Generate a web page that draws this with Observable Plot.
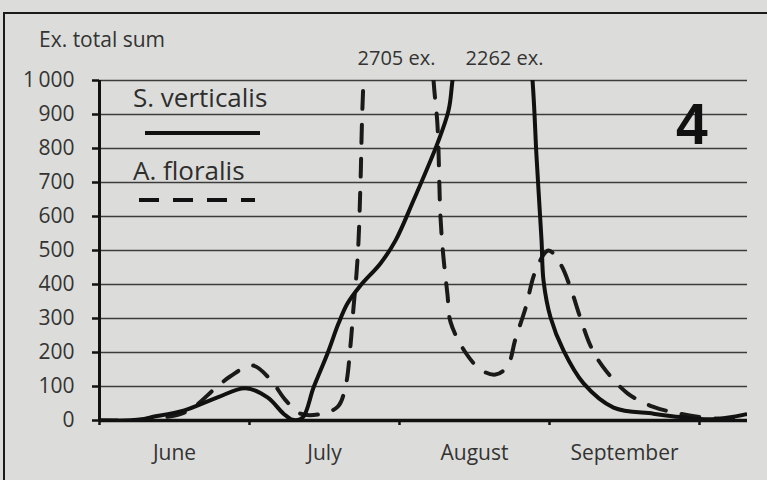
<!DOCTYPE html>
<html>
<head>
<meta charset="utf-8">
<script src="https://cdn.jsdelivr.net/npm/d3@7"></script>
<script src="https://cdn.jsdelivr.net/npm/@observablehq/plot@0.6"></script>
<style>
  html, body { margin: 0; padding: 0; }
  body { width: 767px; height: 480px; overflow: hidden; position: relative; background: #dcddda; font-family: "Open Sans", sans-serif; color: #333; }
  #chart { position: absolute; left: 0; top: 0; }
  .frame { position: absolute; left: 3px; top: 12px; width: 820px; height: 520px; border-left: 2px solid #1a1a1a; border-top: 2px solid #1a1a1a; pointer-events: none; }
  .lbl { position: absolute; white-space: nowrap; line-height: 1; }
  .legend-line { position: absolute; }
</style>
</head>
<body>
<div id="chart"></div>
<div class="frame"></div>
<div class="lbl" style="left:39px; top:29px; font-size:21px; color:#333;">Ex. total sum</div>
<div class="lbl" style="left:133px; top:84px; font-size:26px; color:#2e2e2e;">S. verticalis</div>
<svg class="legend-line" style="left:0; top:0;" width="300" height="220" id="legsvg"></svg>
<div class="lbl" style="left:133px; top:157px; font-size:26px; color:#2e2e2e;">A. floralis</div>
<div class="lbl" style="left:676px; top:96px; font-size:57px; font-weight:bold; font-family:'Liberation Sans', Arial, sans-serif; color:#111;">4</div>
<script>
// ---- Data (x = position in months, 0 = start of June) ----
const months = ["June", "July", "August", "September"];
const monthCenters = [0.5, 1.5, 2.5, 3.5];
const monthBounds = [0, 1, 2, 3, 4];
const yTicks = [0, 100, 200, 300, 400, 500, 600, 700, 800, 900, 1000];

// S. verticalis (solid)
const solidX = [0.000, 0.273, 0.340, 0.560, 0.787, 0.973, 1.120, 1.227, 1.287, 1.353, 1.427, 1.520, 1.593, 1.653, 1.740, 1.873, 1.973, 2.093, 2.253, 2.327, 2.353, 2.640, 2.887, 2.913, 2.947, 2.960, 3.007, 3.093, 3.227, 3.427, 3.693, 3.873, 4.093, 4.307];
const solidY = [0, 2, 9, 29, 68, 95, 68, 20, 2, 8, 97, 197, 285, 344, 397, 462, 529, 647, 815, 912, 1000, 2262, 1000, 780, 529, 412, 303, 206, 109, 38, 20, 10, 4, 18];

// A. floralis (dashed)
const dashedX = [0.000, 0.273, 0.573, 0.773, 0.873, 1.020, 1.140, 1.240, 1.340, 1.460, 1.587, 1.640, 1.673, 1.693, 1.713, 1.727, 1.740, 1.760, 1.993, 2.227, 2.253, 2.273, 2.293, 2.320, 2.340, 2.440, 2.540, 2.640, 2.720, 2.773, 2.840, 2.907, 2.993, 3.073, 3.140, 3.207, 3.273, 3.353, 3.520, 3.693, 3.873, 4.040, 4.207, 4.307];
const dashedY = [0, 3, 25, 95, 130, 162, 120, 60, 20, 18, 40, 100, 220, 330, 430, 530, 700, 1000, 2705, 1000, 870, 600, 480, 370, 290, 200, 150, 135, 160, 240, 330, 440, 500, 460, 390, 300, 220, 160, 80, 40, 20, 8, 5, 12];

// Peak annotations (values above the 1000 cut-off)
const peakLabelX = [1.98, 2.70];
const peakLabelText = ["2705 ex.", "2262 ex."];

// ---- Build tables ----
const solid = solidX.map((x, i) => ({x, y: solidY[i]}));
const dashed = dashedX.map((x, i) => ({x, y: dashedY[i]}));
const peaks = peakLabelX.map((x, i) => ({x, text: peakLabelText[i]}));
const fmtY = d => d >= 1000 ? d3.format(",")(d).replace(",", "\u2009") : String(d);

const chart = Plot.plot({
  width: 767,
  height: 480,
  marginLeft: 99,
  marginRight: 20,
  marginTop: 80,
  marginBottom: 60,
  style: {background: "transparent", fontFamily: "Open Sans, sans-serif", fontSize: "21px", color: "#333", overflow: "visible"},
  x: {domain: [0, 4.32], axis: null},
  y: {domain: [0, 1000], axis: null},
  marks: [
    Plot.ruleY(yTicks.filter(d => d > 0), {stroke: "#3c3c3c", strokeWidth: 1.7}),
    Plot.axisY(yTicks, {anchor: "left", label: null, tickSize: 7, tickPadding: 18, tickFormat: fmtY, stroke: "#111", strokeWidth: 2.5, fill: "#333", fontSize: 21}),
    Plot.axisX(monthBounds, {anchor: "bottom", label: null, tickSize: 5, tickFormat: () => "", stroke: "#111", strokeWidth: 2.5}),
    Plot.axisX(monthCenters, {anchor: "bottom", label: null, tickSize: 0, tickPadding: 25, tickFormat: d => months[Math.round(d - 0.5)], fill: "#333", fontSize: 21}),
    Plot.ruleX([0], {stroke: "#111", strokeWidth: 3}),
    Plot.line(dashed, {x: "x", y: "y", curve: "catmull-rom", stroke: "#1a1a1a", strokeWidth: 4, strokeDasharray: "18,16", clip: true}),
    Plot.line(solid, {x: "x", y: "y", curve: "catmull-rom", stroke: "#111", strokeWidth: 4, clip: true}),
    Plot.ruleY([0], {stroke: "#111", strokeWidth: 3.5}),
    Plot.text(peaks, {x: "x", text: "text", frameAnchor: "top", dy: -30, fontSize: 20, fill: "#333"})
  ]
});
document.getElementById("chart").appendChild(chart);

// legend swatches
const leg = d3.select("#legsvg");
leg.append("line").attr("x1", 145).attr("x2", 260).attr("y1", 133).attr("y2", 133)
  .attr("stroke", "#111").attr("stroke-width", 4);
leg.append("line").attr("x1", 139).attr("x2", 255).attr("y1", 200).attr("y2", 200)
  .attr("stroke", "#111").attr("stroke-width", 4).attr("stroke-dasharray", "20,14");
</script>
</body>
</html>
